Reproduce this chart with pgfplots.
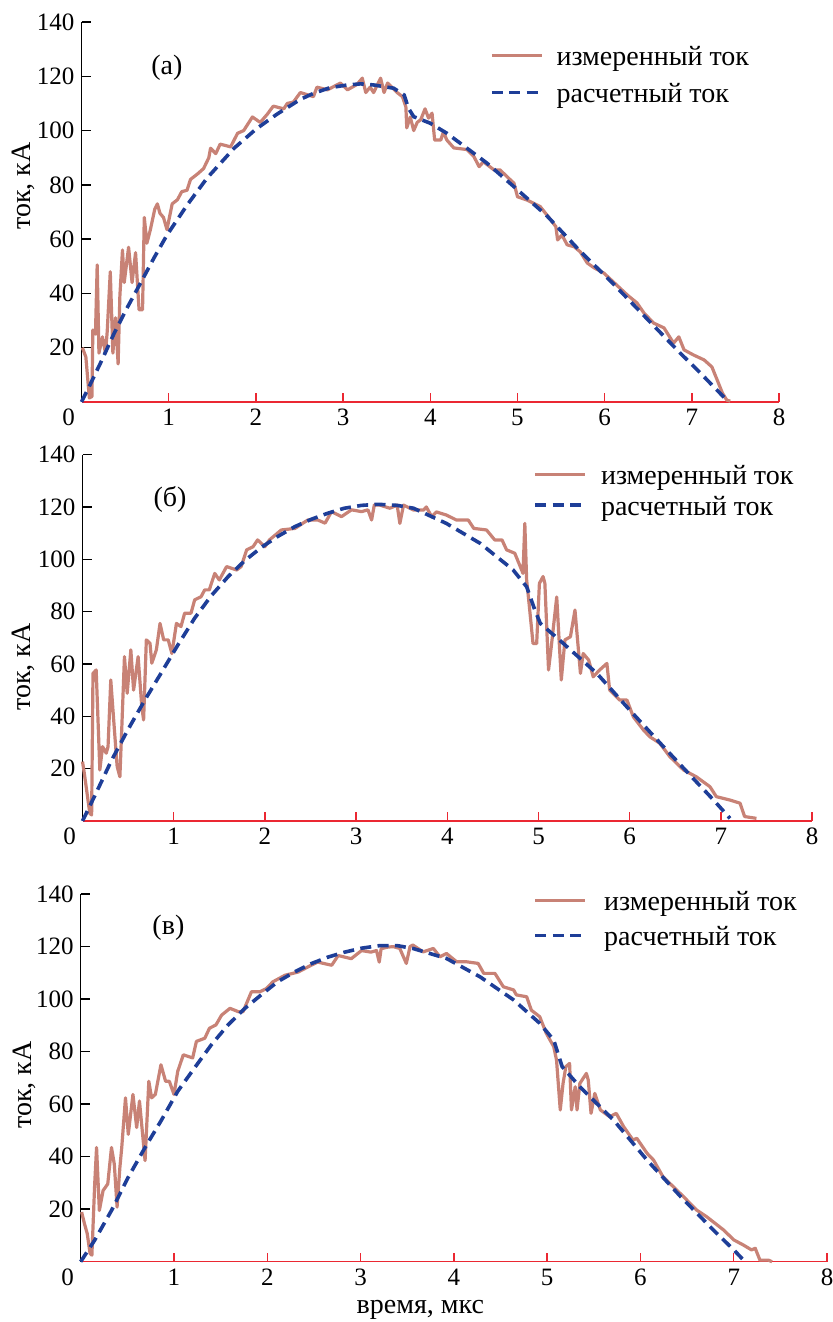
\documentclass[border=0pt]{standalone}
\usepackage{fontspec}
\setmainfont{Liberation Serif}
\usepackage{pgfplots}
\pgfplotsset{compat=1.18}
\definecolor{meas}{RGB}{200,130,118}
\definecolor{calc}{RGB}{30,62,152}
\definecolor{axred}{RGB}{235,40,50}
\pgfplotsset{
  panel/.style={
    scale only axis,
    xmin=0,xmax=8,ymin=0,ymax=140,
    axis lines=left,
    x axis line style={axred,-,line width=0.8pt},
    y axis line style={black,-,line width=0.8pt},
    xtick={1,...,8},
    ytick={20,40,...,140},
    extra x ticks={0},
    extra x tick style={major tick length=0pt, xticklabel style={xshift=-6.5pt}},
    tick align=inside,
    major tick length=4.5pt,
    xtick style={axred,line width=0.7pt},
    ytick style={black,line width=0.7pt},
    ticklabel style={font=\fontsize{12.5}{14}\selectfont, black},
    /pgf/number format/assume math mode=true,
    legend style={draw=none,fill=none,inner sep=0pt,font=\fontsize{14}{16}\selectfont,
      nodes={inner sep=0pt,text height=7pt,text depth=2pt,anchor=west}},
    legend cell align=left,
    legend image code/.code={\draw[##1] (0pt,2.5pt) -- (25pt,2.5pt);},
    clip=false,
  },
  measst/.style={color=meas,line width=1.6pt,line join=round},
  calcst/.style={color=calc,line width=1.8pt,dash pattern=on 5.5pt off 3.2pt},
}
\begin{document}
\begin{tikzpicture}
\path[use as bounding box] (0,0) rectangle (416.5pt,661pt);
% ---------------- panel (a)
\begin{axis}[panel, at={(40.75pt,460pt)}, anchor=south west, width=348.8pt, height=190pt,
  legend style={at={(axis cs:4.68,129.3)},anchor=north west,row sep=9.5pt,
    /tikz/every odd column/.append style={column sep=6.5pt}}]
\addplot[measst] coordinates {
(0.01,20) (0.05,16.6) (0.07,9) (0.09,1.5) (0.12,2) (0.13,26.5) (0.16,25) (0.18,50.5) (0.20,18)
(0.24,24) (0.275,18) (0.295,26) (0.33,48) (0.36,18) (0.39,31) (0.42,14) (0.44,39) (0.47,56)
(0.49,44) (0.54,57) (0.58,44) (0.62,55) (0.66,34) (0.70,34) (0.72,68) (0.75,58.5) (0.79,63.5)
(0.84,71) (0.87,73) (0.90,69.5) (0.94,68) (0.98,63.5) (1.04,73) (1.10,74.5) (1.15,77.5)
(1.21,78) (1.25,82) (1.33,84) (1.40,86) (1.46,90) (1.48,93.5) (1.54,91.5) (1.59,95) (1.71,94)
(1.79,99) (1.86,100) (1.96,105) (2.05,103) (2.13,106) (2.20,109) (2.32,108) (2.36,110)
(2.43,110.5) (2.51,114) (2.66,112.5) (2.70,116) (2.82,115) (2.97,117.5) (3.05,115) (3.16,117)
(3.22,119.3) (3.26,114) (3.31,116) (3.35,114) (3.43,119.3) (3.47,114) (3.51,117.5) (3.62,114)
(3.68,112.5) (3.72,108.7) (3.73,101) (3.77,105) (3.81,100) (3.85,103) (3.89,104) (3.94,108)
(3.98,104.6) (4.02,106.4) (4.05,96.5) (4.12,96.5) (4.15,99.5) (4.19,96.5) (4.27,93.6) (4.42,93)
(4.50,90.4) (4.56,86.7) (4.61,88.5) (4.73,85.5) (4.80,85.5) (4.88,83) (4.96,80.6) (5.00,75.6)
(5.11,74.4) (5.26,72) (5.34,68.8) (5.44,64.6) (5.46,59.7) (5.51,61.5) (5.57,57.9) (5.65,57.2)
(5.72,55.3) (5.80,51.2) (5.88,49.4) (5.99,47.5) (6.10,44.2) (6.26,39.4) (6.37,36.5) (6.45,32.8)
(6.56,29.1) (6.68,27.3) (6.79,21.7) (6.85,24) (6.91,19.2) (7.02,17.3) (7.14,15.5) (7.23,12.9)
(7.29,8.1) (7.35,3.3) (7.40,0.7) (7.44,0.3)};
\addlegendentry{измеренный ток}
\addplot[calcst] coordinates {
(0,0) (0.1,6.5) (0.22,14.5) (0.37,25) (0.52,34.5) (0.68,44) (0.83,53) (0.98,61.5) (1.21,72.5)
(1.44,82.5) (1.75,93.5) (2.0,100.5) (2.24,106) (2.51,111.5) (2.66,113.7) (2.85,115.8)
(3.05,116.8) (3.2,117.2) (3.35,116.8) (3.58,115.6) (3.70,113.1) (3.75,108.2) (3.81,105.1)
(4.0,102.7) (4.19,99) (4.42,93.5) (4.65,88) (4.96,79.3) (5.34,68.5) (5.72,55.5) (6.10,43.5)
(6.49,30.5) (6.87,17.9) (7.10,10.6) (7.25,5.6) (7.40,0.7)};
\addlegendentry{расчетный ток}
\node[font=\fontsize{14}{16}\selectfont] at (axis cs:0.98,123) {(а)};
\node[rotate=90,font=\fontsize{14}{16}\selectfont] at (axis cs:-0.67,79.5) {ток, кА};
\end{axis}
% ---------------- panel (b)
\begin{axis}[panel, at={(41.25pt,250.5pt)}, anchor=south west, width=364.8pt, height=183.2pt,
  legend style={at={(axis cs:4.94,134.2)},anchor=north west,row sep=6.5pt,
    /tikz/every odd column/.append style={column sep=7pt}}]
\addplot[measst] coordinates {
(0,22.7) (0.02,18.2) (0.05,10.6) (0.08,2.9) (0.10,2.3) (0.115,56.4) (0.15,57.7) (0.19,19.5)
(0.22,28.4) (0.26,25.9) (0.28,28.4) (0.31,53.9) (0.35,34.8) (0.38,20.8) (0.41,16.9) (0.43,34.8)
(0.46,62.8) (0.49,48.8) (0.53,65.4) (0.56,50) (0.61,62.8) (0.65,43.7) (0.67,38.6) (0.70,69.2)
(0.74,67.9) (0.76,60.3) (0.81,65.4) (0.85,75.5) (0.89,69.2) (0.94,69.2) (0.98,64) (1.03,75.5)
(1.08,74.3) (1.12,79.4) (1.19,79.4) (1.23,84.5) (1.30,85.7) (1.34,88.3) (1.39,88.3) (1.45,94.6)
(1.50,92.1) (1.58,97.2) (1.69,95.9) (1.74,97.2) (1.80,103.6) (1.87,104.8) (1.92,107.4) (2.0,104.8)
(2.05,107.4) (2.18,111.2) (2.33,111.8) (2.47,115) (2.58,115) (2.66,113.8) (2.73,118.2)
(2.84,116.3) (2.95,118.9) (3.06,118.2) (3.13,118.9) (3.17,115) (3.20,120.8) (3.26,120.7)
(3.37,119.5) (3.45,120.7) (3.48,113.7) (3.52,120.7) (3.63,118.8) (3.74,118.8) (3.77,120)
(3.83,116.2) (3.88,118.1) (3.99,116.9) (4.10,115) (4.23,115) (4.29,111.8) (4.43,111.2)
(4.52,107.4) (4.60,107.4) (4.65,103.6) (4.74,102.3) (4.80,97.2) (4.83,94.6) (4.85,113.7)
(4.87,92.1) (4.90,81.9) (4.94,67.8) (4.98,67.8) (5.01,90.8) (5.05,93.4) (5.07,90.8) (5.11,57.7)
(5.14,66.6) (5.20,85.6) (5.25,53.9) (5.29,69.2) (5.35,70.4) (5.40,80.6) (5.46,56.4) (5.49,64)
(5.55,61.5) (5.60,55.1) (5.67,57.7) (5.75,60.2) (5.78,50.1) (5.89,46.2) (5.97,46.2) (6.04,39.8)
(6.15,34.8) (6.22,32.2) (6.33,29.7) (6.44,24.6) (6.59,19.5) (6.73,16.9) (6.88,13.1) (6.95,9.3)
(7.10,8) (7.21,6.8) (7.26,1.7) (7.39,1)};
\addlegendentry{измеренный ток}
\addplot[calcst] coordinates {
(0,0) (0.13,9.3) (0.32,23.3) (0.5,35) (0.68,46) (0.86,56.4) (1.05,67.5) (1.23,77.5) (1.41,86)
(1.6,93.5) (1.78,99.5) (1.96,104.5) (2.14,108.7) (2.33,112.5) (2.51,115.3) (2.69,117.6)
(2.87,119.5) (3.06,120.6) (3.24,121) (3.45,120.6) (3.63,119.5) (3.99,113.7) (4.36,106.1)
(4.72,96) (4.87,89.5) (4.96,80.6) (5.02,75.5) (5.27,67.9) (5.64,56.4) (6.0,42.4) (6.37,28.4)
(6.73,15) (6.92,8) (7.10,1)};
\addlegendentry{расчетный ток}
\node[font=\fontsize{14}{16}\selectfont] at (axis cs:0.96,122.7) {(б)};
\node[rotate=90,font=\fontsize{14}{16}\selectfont] at (axis cs:-0.65,58.8) {ток, кА};
\end{axis}
% ---------------- panel (c)
\begin{axis}[panel, at={(40.35pt,30.15pt)}, anchor=south west, width=373.2pt, height=183.8pt,
  legend style={at={(axis cs:4.85,139.2)},anchor=north west,row sep=8.5pt,
    /tikz/every odd column/.append style={column sep=8.5pt}}]
\addplot[measst] coordinates {
(0.01,18.9) (0.04,14.5) (0.07,10.7) (0.10,3.2) (0.12,2.5) (0.15,29.6) (0.17,43.5) (0.20,19.5)
(0.24,27.1) (0.29,29.6) (0.33,43.5) (0.36,37.2) (0.39,20.8) (0.42,35.9) (0.44,43.5) (0.48,62.4)
(0.51,48.5) (0.56,63.7) (0.60,51.1) (0.63,61.2) (0.69,38.5) (0.70,46) (0.73,68.7) (0.76,62.4)
(0.80,63.7) (0.86,75) (0.91,68.7) (0.95,68.7) (1.0,63.7) (1.04,72.5) (1.10,78.8) (1.20,77.6)
(1.24,83.9) (1.33,85.1) (1.38,88.9) (1.45,90.2) (1.51,93.9) (1.60,96.5) (1.69,95.2) (1.74,95.2)
(1.83,102.8) (1.92,102.8) (1.99,104) (2.06,106.6) (2.19,109.1) (2.33,110.3) (2.47,112.9)
(2.54,114.1) (2.69,112.9) (2.76,116.6) (2.90,115.4) (3.01,118.5) (3.11,117.9) (3.17,118.5)
(3.20,114.1) (3.22,119.2) (3.29,119.8) (3.35,120) (3.42,119.3) (3.49,113.6) (3.53,120)
(3.56,120.6) (3.67,118) (3.78,119.3) (3.85,116.1) (3.92,117.4) (4.03,114.2) (4.14,114.2)
(4.26,113.6) (4.32,109.8) (4.44,109.8) (4.53,104.7) (4.64,103.5) (4.67,101.6) (4.78,100.9)
(4.83,95.8) (4.92,93.3) (4.99,87) (5.07,81.9) (5.10,76.8) (5.14,57.8) (5.17,67.9) (5.20,74.3)
(5.24,75.5) (5.26,57.8) (5.30,66.6) (5.32,57.8) (5.35,67.9) (5.42,71.7) (5.44,69.2) (5.47,56.5)
(5.51,64.1) (5.57,57.8) (5.67,55.2) (5.74,56.5) (5.82,51.4) (5.92,46.3) (5.96,47) (6.07,41.3)
(6.14,38.7) (6.24,32.4) (6.35,28.6) (6.46,24.8) (6.60,19.7) (6.71,17.1) (6.89,12.1) (7.0,8.3)
(7.10,6.4) (7.19,4.5) (7.23,5.1) (7.28,0.6) (7.37,0.6) (7.41,0)};
\addlegendentry{измеренный ток}
\addplot[calcst] coordinates {
(0,0) (0.15,8.2) (0.33,19.5) (0.51,32.2) (0.69,43.5) (0.86,53.6) (1.04,64.9) (1.22,73.8)
(1.40,82.6) (1.58,90.2) (1.76,96.5) (1.93,101.5) (2.11,106.6) (2.29,110.3) (2.47,113.5)
(2.65,116) (2.83,117.9) (3.01,119.4) (3.21,120.4) (3.39,120.4) (3.56,119.3) (3.92,115.5)
(4.28,108.5) (4.64,99.7) (4.92,90.8) (5.07,84.4) (5.16,74.3) (5.35,66.6) (5.71,54) (6.07,38.7)
(6.43,24.8) (6.78,12.1) (7.0,4.5) (7.12,0)};
\addlegendentry{расчетный ток}
\node[font=\fontsize{14}{16}\selectfont] at (axis cs:0.94,127) {(в)};
\node[rotate=90,font=\fontsize{14}{16}\selectfont] at (axis cs:-0.60,67.3) {ток, кА};
\node[font=\fontsize{14}{16}\selectfont,inner sep=0pt] at (axis cs:3.64,-18.3) {время, мкс};
\end{axis}
\end{tikzpicture}
\end{document}
